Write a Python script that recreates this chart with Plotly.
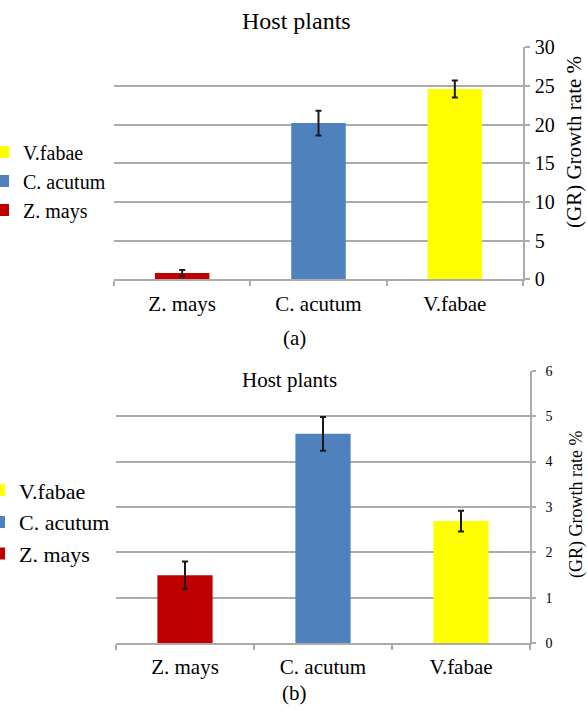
import plotly.graph_objects as go

# ---- data ----
categories = ["Z. mays", "C. acutum", "V.fabae"]
growth_a = [0.8, 20.2, 24.6]
err_a = [0.4, 1.6, 1.1]
growth_b = [1.5, 4.61, 2.69]
err_b = [0.3, 0.37, 0.23]
bar_colors = ["#C00000", "#4F81BD", "#FFFF00"]
yticks_a = [0, 5, 10, 15, 20, 25, 30]
yticks_b = [0, 1, 2, 3, 4, 5, 6]

W, H = 587, 712
FONT = "Liberation Serif"
GRID = "#ababab"

def px_x(p):
    return p / W

def px_y(p):
    return 1 - p / H

fig = go.Figure()

n = len(categories)
for i, cat in enumerate(categories):
    fig.add_trace(go.Bar(
        x=[cat], y=[growth_a[i]], name=cat,
        marker=dict(color=bar_colors[i], line=dict(width=0)),
        error_y=dict(type="data", array=[err_a[i]], color="#1a1a1a", thickness=2, width=3),
        xaxis="x", yaxis="y", legend="legend", legendrank=n - i,
    ))
for i, cat in enumerate(categories):
    fig.add_trace(go.Bar(
        x=[cat], y=[growth_b[i]], name=cat,
        marker=dict(color=bar_colors[i], line=dict(width=0)),
        error_y=dict(type="data", array=[err_b[i]], color="#1a1a1a", thickness=2, width=3),
        xaxis="x2", yaxis="y2", legend="legend2", legendrank=n - i,
    ))

xcommon = dict(
    type="category", categoryorder="array", categoryarray=categories,
    showline=True, linecolor=GRID, linewidth=1.5, showgrid=False,
    ticks="outside", tickson="boundaries", ticklen=5, tickcolor=GRID, tickwidth=1.5,
    zeroline=False, fixedrange=True,
)

fig.update_layout(
    width=W, height=H,
    margin=dict(l=0, r=0, t=0, b=0, autoexpand=False),
    paper_bgcolor="white", plot_bgcolor="white",
    font=dict(family=FONT, color="#000000"),
    barmode="overlay", bargap=0.6,
    xaxis=dict(domain=[px_x(114), px_x(523)], anchor="y",
               tickfont=dict(size=21, family=FONT), ticklabelstandoff=5, **xcommon),
    yaxis=dict(domain=[px_y(279.3), px_y(47.3)], anchor="x", side="right",
               range=[0, 30], tickvals=yticks_a,
               showgrid=True, gridcolor=GRID, gridwidth=1.5,
               showline=True, linecolor=GRID, linewidth=1.5,
               ticks="outside", ticklen=5, tickcolor=GRID, tickwidth=1.5,
               tickfont=dict(size=20, family=FONT), ticklabelstandoff=1,
               zeroline=False, fixedrange=True),
    xaxis2=dict(domain=[px_x(116), px_x(530)], anchor="y2",
                tickfont=dict(size=21, family=FONT), ticklabelstandoff=4, **xcommon),
    yaxis2=dict(domain=[px_y(643.3), px_y(370.7)], anchor="x2", side="right",
                range=[0, 6], tickvals=yticks_b,
                showgrid=True, gridcolor=GRID, gridwidth=1.5,
                showline=True, linecolor=GRID, linewidth=1.5,
                ticks="outside", ticklen=4, tickcolor=GRID, tickwidth=1.5,
                tickfont=dict(size=14, family=FONT), ticklabelstandoff=7,
                zeroline=False, fixedrange=True),
    legend=dict(x=-17 / W, y=px_y(181), xanchor="left", yanchor="middle",
                traceorder="normal",
                font=dict(size=20, family=FONT), bgcolor="rgba(0,0,0,0)",
                itemwidth=30),
    legend2=dict(x=-21 / W, y=px_y(522), xanchor="left", yanchor="middle",
                 traceorder="normal",
                 font=dict(size=22, family=FONT), bgcolor="rgba(0,0,0,0)",
                 itemwidth=30),
    showlegend=True,
)

annotations = [
    dict(text="Host plants", x=px_x(297), y=px_y(21), font=dict(size=24, family=FONT)),
    dict(text="Host plants", x=px_x(289), y=px_y(380), font=dict(size=21, family=FONT)),
    dict(text="(a)", x=px_x(295), y=px_y(338), font=dict(size=21, family=FONT)),
    dict(text="(b)", x=px_x(295), y=px_y(693), font=dict(size=21, family=FONT)),
    dict(text="(GR) Growth rate %", x=px_x(574), y=px_y(142), textangle=-90,
         font=dict(size=21, family=FONT)),
    dict(text="(GR) Growth rate %", x=px_x(576), y=px_y(505), textangle=-90,
         font=dict(size=18, family=FONT)),
]
for a in annotations:
    a.update(xref="paper", yref="paper", showarrow=False, xanchor="center", yanchor="middle")
fig.update_layout(annotations=annotations)

fig.write_html("out.html")
